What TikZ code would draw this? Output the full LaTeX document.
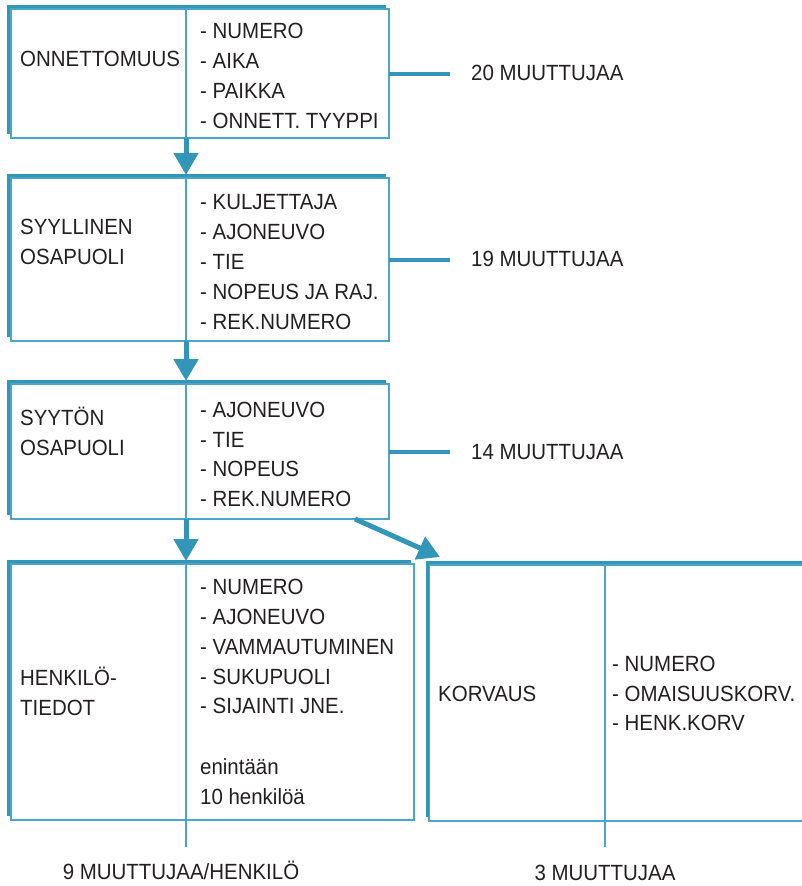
\documentclass[tikz,border=0pt]{standalone}
\usepackage{fontspec}
\setmainfont{Liberation Sans}[FakeStretch=0.93]
\usetikzlibrary{arrows.meta,calc}
\definecolor{edgeblue}{RGB}{50,150,185}
\definecolor{lineblue}{RGB}{75,165,200}
\definecolor{ink}{RGB}{35,31,32}

\begin{document}
\begin{tikzpicture}[x=1pt,y=-1pt,
  box/.style={draw=lineblue,line width=1.4pt,inner sep=0pt,outer sep=0pt},
  rim/.style={draw=edgeblue,line width=3pt},
  divider/.style={draw=lineblue,line width=1.4pt},
  flow/.style={draw=edgeblue,line width=5pt,-{Triangle[length=22pt,width=24pt]}},
  tally/.style={draw=edgeblue,line width=4pt},
  txt/.style={font=\fontsize{22}{30}\selectfont,text=ink,inner sep=0pt,
              text height=15.8pt,text depth=0pt,anchor=west},
]
\useasboundingbox (0,0) rectangle (802,886);
\clip (0,0) rectangle (802,886);

% ---- record boxes (thin frame) ----
\node[box,minimum width=378pt,minimum height=129pt] (b1) at (200,73.5) {};
\node[box,minimum width=378pt,minimum height=163pt] (b2) at (200,259.5) {};
\node[box,minimum width=378pt,minimum height=135pt] (b3) at (200,451.5) {};
\node[box,minimum width=403pt,minimum height=256pt] (b4) at (212.5,692) {};
\node[box,minimum width=401pt,minimum height=256pt] (b5) at (629.5,693) {};

% ---- heavy rims along top and left edges ----
\foreach \b in {b1,b2,b3,b4}
  \draw[rim] ($(\b.south west)+(-3,-4)$) |- ($(\b.north east)+(-3,-2.5)$);
\draw[rim] ($(b5.south west)+(-2,-4)$) |- ($(b5.north east)+(-3,-2.5)$);

% ---- column dividers ----
\coordinate (col) at (186,0);
\coordinate (colk) at (605,0);
\coordinate (e4) at (186,847);
\coordinate (e5) at (605,847);
\foreach \b in {b1,b2,b3}
  \draw[divider] (\b.north -| col) -- (\b.south -| col);
\draw[divider] (b4.north -| col) -- (e4);
\draw[divider] (b5.north -| colk) -- (e5);

% ---- flow arrows ----
\draw[flow,shorten >=3pt] (b1.south -| col) -- (b2.north -| col);
\draw[flow,shorten >=3pt] (b2.south -| col) -- (b3.north -| col);
\draw[flow,shorten >=3pt] (b3.south -| col) -- (b4.north -| col);
\coordinate (d0) at (355,0);
\coordinate (d1) at ($(b5.north west)+(11,-8)$);
\draw[flow] (b3.south -| d0) -- (d1);

% ---- ONNETTOMUUS ----
\node[txt] (h1) at (20,59) {ONNETTOMUUS};
\foreach \t [count=\i] in {NUMERO,AIKA,PAIKKA,ONNETT. TYYPPI}
  \node[txt] (r1\i) at (200,{31+30*(\i-1)}) {- \t};

% ---- SYYLLINEN OSAPUOLI ----
\node[txt] (h2a) at (20,227) {SYYLLINEN};
\node[txt] (h2b) at (20,257) {OSAPUOLI};
\foreach \t [count=\i] in {KULJETTAJA,AJONEUVO,TIE,NOPEUS JA RAJ.,REK.NUMERO}
  \node[txt] (r2\i) at (200,{202+30*(\i-1)}) {- \t};

% ---- SYYTÖN OSAPUOLI ----
\node[txt] (h3a) at (20,418) {SYYTÖN};
\node[txt] (h3b) at (20,448) {OSAPUOLI};
\foreach \t [count=\i] in {AJONEUVO,TIE,NOPEUS,REK.NUMERO}
  \node[txt] (r3\i) at (200,{410+29.5*(\i-1)}) {- \t};

% ---- HENKILÖTIEDOT ----
\node[txt] (h4a) at (20,678) {HENKILÖ-};
\node[txt] (h4b) at (20,708) {TIEDOT};
\foreach \t [count=\i] in {NUMERO,AJONEUVO,VAMMAUTUMINEN,SUKUPUOLI,SIJAINTI JNE.}
  \node[txt] (r4\i) at (200,{587+29.75*(\i-1)}) {- \t};
\node[txt] (n4a) at (200,767) {enintään};
\node[txt] (n4b) at (200,797) {10 henkilöä};

% ---- KORVAUS ----
\node[txt] (h5) at (438,694) {KORVAUS};
\foreach \t [count=\i] in {NUMERO,OMAISUUSKORV.,HENK.KORV}
  \node[txt] (r5\i) at (612,{664+29.5*(\i-1)}) {- \t};

% ---- variable counts ----
\node[txt] (c1) at (471,73) {20 MUUTTUJAA};
\node[txt] (c2) at (471,259) {19 MUUTTUJAA};
\node[txt] (c3) at (471,452) {14 MUUTTUJAA};
\draw[tally,shorten >=21pt] (b1.east) -- (b1.east -| c1.west);
\draw[tally,shorten >=21pt] (b2.east) -- (b2.east -| c2.west);
\draw[tally,shorten >=21pt] (b3.east) -- (b3.east -| c3.west);
\node[txt,anchor=center] (c4) at (181,872) {9 MUUTTUJAA/HENKILÖ};
\node[txt,anchor=center] (c5) at (605,873) {3 MUUTTUJAA};
\end{tikzpicture}
\end{document}
